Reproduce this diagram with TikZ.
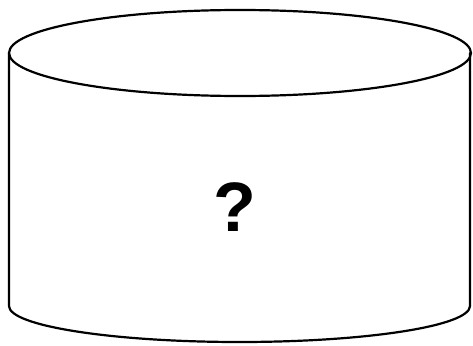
\documentclass[tikz,border=0pt]{standalone}
\usepackage{fontspec}
\setmainfont{Liberation Sans}
\usetikzlibrary{positioning}

\begin{document}
\begin{tikzpicture}[x=1pt, y=-1pt,
    outline/.style={line width=2.2pt, line join=round, line cap=round},
    qlabel/.style={font=\fontsize{70}{72}\selectfont\bfseries, inner sep=0pt},
]
\useasboundingbox (0,0) rectangle (473,345);

% top lid
\draw[outline] (240,53) ellipse [x radius=231, y radius=43];

% body
\draw[outline] (9,53) -- (9,306)
    arc [start angle=180, end angle=0, x radius=230.5, y radius=36] -- (470,53);

\node[qlabel] (qmark) at (235,207) {?};

\end{tikzpicture}
\end{document}
